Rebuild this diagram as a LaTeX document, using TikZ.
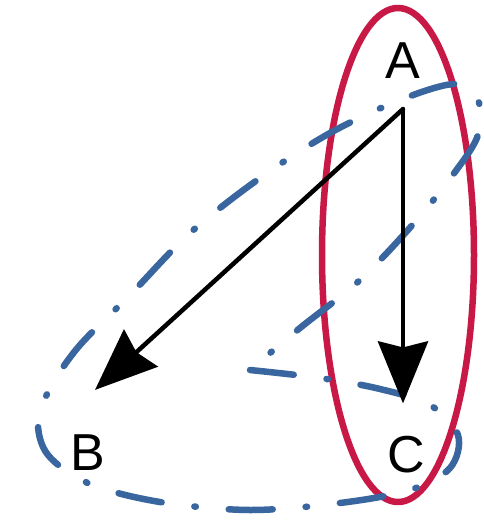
\documentclass[tikz,border=0pt]{standalone}
\usepackage{fontspec}
\setmainfont{Liberation Sans}
\usepackage{tikz}
\usetikzlibrary{arrows.meta,positioning}
\definecolor{ringred}{RGB}{200,24,70}
\definecolor{ringblue}{RGB}{58,102,160}
\tikzset{
  every picture/.style={line join=round, line cap=round, >=Stealth},
  letter/.style={inner sep=2pt, font=\fontsize{52}{60}\selectfont},
  arr/.style={-{Stealth[length=62pt,width=50pt,inset=6pt]}, line width=4.5pt},
  redring/.style={draw=ringred, line width=6.5pt},
  bluering/.style={draw=ringblue, line width=6.5pt, dash pattern=on 44pt off 33pt on 1.5pt off 33pt},
}

\begin{document}
\begin{tikzpicture}[x=1pt,y=-1pt]
\useasboundingbox[fill=white](0,0)rectangle(484,520);
\node[letter](A)at(403,61){A};
\node[letter](B)at(88,453){B};
\node[letter](C)at(406,455){C};
\coordinate[below=28pt of A](top);
\coordinate(tipB)at([xshift=7pt,yshift=43pt]B.north);
% groupings
\draw[redring](398,255)ellipse[x radius=76,y radius=247];
\draw[bluering]plot[smooth,tension=0.55]coordinates{(250,370)(320,378)(380,389)(430,405)(458,435)(450,468)(410,490)(340,503)(250,510)(160,502)(90,484)(48,455)(38,420)(52,385)(80,345)(130,295)(190,233)(260,178)(330,133)(400,100)(455,84)(478,100)(478,135)(455,172)(415,222)(360,280)(300,328)(250,370)};
% edges
\draw[arr](top)--(tipB);
\draw[arr,shorten >=31pt](top)--(top|-C.north);
\end{tikzpicture}
\end{document}
